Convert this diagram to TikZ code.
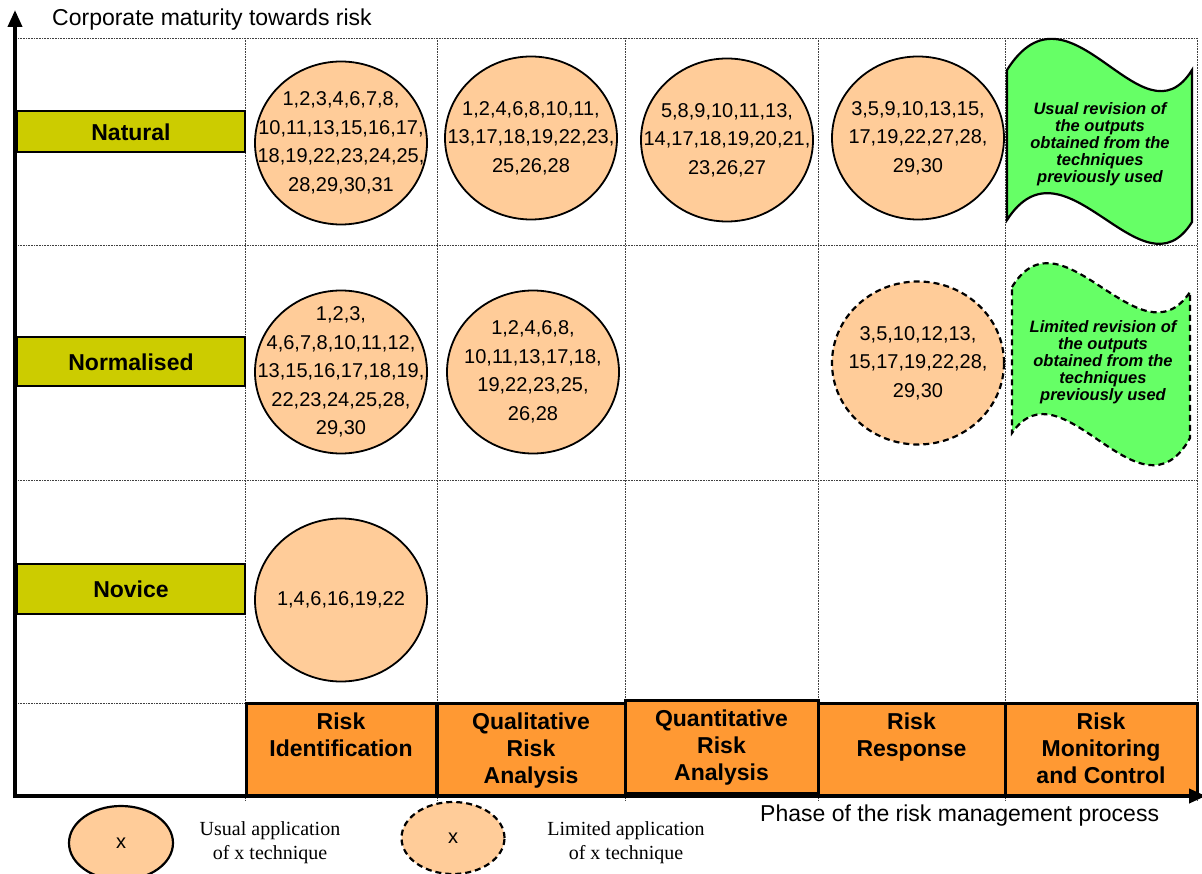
\documentclass[tikz,border=0pt]{standalone}
\usepackage{fontspec}
\setmainfont{Liberation Sans}
\newfontfamily\legendfont{Liberation Serif}
\usetikzlibrary{arrows.meta,positioning,shapes.geometric}
\definecolor{levelgreen}{HTML}{CCCC00}
\definecolor{phaseorange}{HTML}{FF9933}
\definecolor{peach}{HTML}{FFCC99}
\definecolor{bannergreen}{HTML}{66FF66}
\tikzset{>={Triangle[length=17pt,width=14pt]},
	grid/.style={densely dotted,line width=0.6pt,black!75},
	axis/.style={->,line width=3.8pt},
	level/.style={rectangle,draw=black,line width=2pt,fill=levelgreen,minimum width=228pt,inner sep=0pt,font=\fontsize{23}{26}\selectfont\bfseries},
	phase/.style={rectangle,draw=black,line width=3pt,fill=phaseorange,minimum width=190pt,minimum height=92pt,inner sep=0pt},
	ptext/.style={align=center,inner sep=0pt,font=\fontsize{23}{27}\selectfont\bfseries},
	usual/.style={ellipse,draw=black,line width=1.8pt,fill=peach,minimum width=172pt,minimum height=163pt,inner sep=0pt},
	limited/.style={usual,dash pattern=on 6pt off 4pt,line width=2.2pt},
	numtext/.style={align=center,inner sep=0pt,font=\fontsize{20}{28.5}\selectfont},
	banner/.style={draw=black,line width=2.2pt,fill=bannergreen},
	btext/.style={align=center,inner sep=0pt,font=\fontsize{16.5}{17}\selectfont\bfseries\itshape},
	legtext/.style={align=center,inner sep=0pt,font=\fontsize{20}{24}\selectfont\legendfont},
	axtext/.style={anchor=west,inner sep=0pt,font=\fontsize{23}{26}\selectfont}}
\begin{document}
\begin{tikzpicture}[x=1pt,y=-1pt]
	\useasboundingbox (0,0) rectangle (1202,874);
	% dotted grid
	\foreach \x in {245,437,625,818,1005,1197}
		\draw [grid] (\x,38) -- (\x,800);
	\foreach \y in {38,245,480,703}
		\draw [grid] (18,\y) -- (1197,\y);
	% maturity levels
	\node (Nat) at (131,132) [level,minimum height=41pt] {Natural};
	\node (Nor) at (131,362) [level,minimum height=49pt] {Normalised};
	\node (Nov) at (131,589) [level,minimum height=50pt] {Novice};
	% phases
	\node (P1) at (341,749) [phase] {};
	\node (P2) at (531,749) [phase,minimum width=188pt] {};
	\node (P3) at (721.5,746.5) [phase,minimum width=193pt,minimum height=93pt] {};
	\node (P4) at (911.5,749) [phase,minimum width=187pt] {};
	\node (P5) at (1101,749) [phase,minimum width=192pt] {};
	\node [ptext,below=11pt of P1.north] {Risk\\Identification};
	\node [ptext,below=11pt of P2.north] {Qualitative\\Risk\\Analysis};
	\node [ptext,below=11pt of P3.north] {Quantitative\\Risk\\Analysis};
	\node [ptext,below=11pt of P4.north] {Risk\\Response};
	\node [ptext,below=11pt of P5.north] {Risk\\Monitoring\\and Control};
	% techniques
	\node (A1) at (341,143) [usual,label={[numtext]center:{1,2,3,4,6,7,8,\\10,11,13,15,16,17,\\18,19,22,23,24,25,\\28,29,30,31}}] {};
	\node (A2) at (531,138) [usual,label={[numtext]center:{1,2,4,6,8,10,11,\\13,17,18,19,22,23,\\25,26,28}}] {};
	\node (A3) at (727,140) [usual,label={[numtext]center:{5,8,9,10,11,13,\\14,17,18,19,20,21,\\23,26,27}}] {};
	\node (A4) at (918,138) [usual,label={[numtext]center:{3,5,9,10,13,15,\\17,19,22,27,28,\\29,30}}] {};
	\node (B1) at (341,372) [usual,label={[numtext]center:{1,2,3,\\4,6,7,8,10,11,12,\\13,15,16,17,18,19,\\22,23,24,25,28,\\29,30}}] {};
	\node (B2) at (533,372) [usual,label={[numtext]center:{1,2,4,6,8,\\10,11,13,17,18,\\19,22,23,25,\\26,28}}] {};
	\node (B4) at (918,363) [limited,label={[numtext]center:{3,5,10,12,13,\\15,17,19,22,28,\\29,30}}] {};
	\node (C1) at (341,600) [usual,label={[numtext]center:{1,4,6,16,19,22}}] {};
	% revision banners
	\draw [banner] (1007,70) .. controls (1070,-30) and (1142,150) .. (1192,70)
		-- (1192,222) .. controls (1142,302) and (1065,130) .. (1007,220) -- cycle;
	\node (A5) at (1100,144) [btext] {Usual revision of\\the outputs\\obtained from the\\techniques\\previously used};
	\draw [banner,dash pattern=on 6pt off 4pt] (1012,287) .. controls (1062,205) and (1140,367) .. (1190,292)
		-- (1190,438) .. controls (1140,528) and (1062,360) .. (1012,433) -- cycle;
	\node (B5) at (1103,362) [btext] {Limited revision of\\the outputs\\obtained from the\\techniques\\previously used};
	% axes
	\coordinate (ybot) at (15,798);
	\coordinate (ytop) at (15,10);
	\coordinate (xbeg) at (13,796);
	\coordinate (xend) at (1206,796);
	\draw [axis] (ybot) -- (ytop);
	\draw [axis] (xbeg) -- (xend);
	\node (ylab) at (52,20) [axtext] {Corporate maturity towards risk};
	\node (xlab) at (760,816) [axtext] {Phase of the risk management process};
	% legend
	\node (L1) at (121,843) [usual,line width=2.2pt,minimum width=104pt,minimum height=74pt,label={[numtext]center:x}] {};
	\node (L2) at (453,838) [limited,minimum width=103pt,minimum height=72pt,label={[numtext]center:x}] {};
	\node (T1) at (270,843) [legtext] {Usual application\\of x technique};
	\node (T2) at (626,843) [legtext] {Limited application\\of x technique};
\end{tikzpicture}
\end{document}
